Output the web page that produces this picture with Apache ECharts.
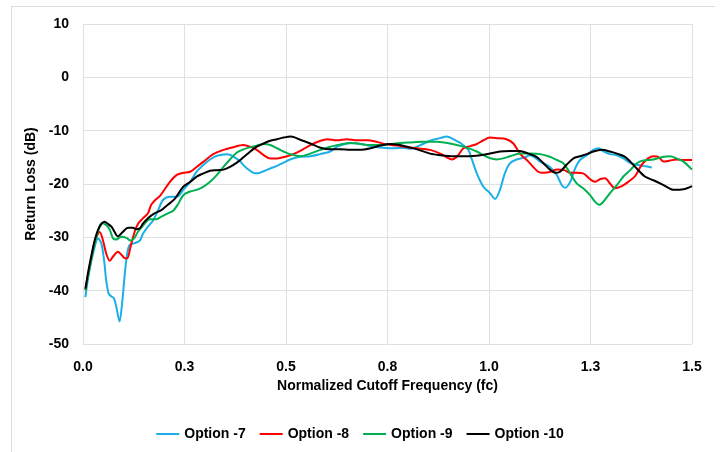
<!DOCTYPE html>
<html>
<head>
<meta charset="utf-8">
<script src="https://cdn.jsdelivr.net/npm/echarts@6/dist/echarts.min.js"></script>
<style>
html,body{margin:0;padding:0;background:#fff;}
#chart{width:720px;height:452px;}
</style>
</head>
<body>
<div id="chart"></div>
<script>
const seriesNames = ['Option -7', 'Option -8', 'Option -9', 'Option -10'];
const seriesColors = ['#1AAFE6', '#FF0000', '#00B050', '#000000'];
const xTickLabels = ['0.0', '0.3', '0.5', '0.8', '1.0', '1.3', '1.5'];
const yTickLabels = ['-50', '-40', '-30', '-20', '-10', '0', '10'];

const option7 = [[0.006,-41.2],[0.013,-37.4],[0.025,-33],[0.037,-30.2],[0.045,-31.1],[0.052,-34.3],[0.057,-38],[0.063,-40.5],[0.070,-41.1],[0.076,-41.4],[0.082,-43],[0.090,-45.8],[0.097,-41.8],[0.103,-36.8],[0.109,-33],[0.115,-31.4],[0.127,-31.1],[0.140,-30.6],[0.148,-29.3],[0.160,-28],[0.173,-26.8],[0.185,-24.9],[0.197,-23],[0.214,-22.4],[0.231,-22.4],[0.247,-21.1],[0.264,-19.6],[0.280,-17.7],[0.297,-16.4],[0.313,-15.4],[0.330,-14.7],[0.354,-14.4],[0.370,-14.8],[0.387,-15.8],[0.404,-17.1],[0.420,-17.9],[0.430,-18],[0.445,-17.6],[0.461,-17.1],[0.478,-16.6],[0.494,-16],[0.510,-15.4],[0.535,-14.9],[0.560,-14.8],[0.584,-14.4],[0.609,-13.9],[0.626,-13],[0.650,-12.4],[0.666,-12.3],[0.691,-12.6],[0.715,-13],[0.740,-13.2],[0.765,-13.3],[0.789,-13.2],[0.806,-13.4],[0.831,-12.7],[0.855,-11.9],[0.880,-11.4],[0.896,-11.1],[0.912,-11.6],[0.933,-12.5],[0.949,-13.6],[0.957,-15.2],[0.970,-18],[0.986,-20.5],[1.002,-21.7],[1.015,-22.8],[1.027,-21.1],[1.039,-18],[1.052,-16.1],[1.068,-15.4],[1.089,-15],[1.101,-14.6],[1.126,-15.8],[1.150,-16.8],[1.167,-18.3],[1.179,-20.2],[1.188,-20.7],[1.200,-19.6],[1.212,-17.1],[1.224,-15.5],[1.241,-14.6],[1.257,-13.6],[1.270,-13.3],[1.282,-13.9],[1.298,-14.4],[1.315,-14.6],[1.331,-15.2],[1.348,-16.1],[1.364,-16.4],[1.380,-16.6],[1.401,-16.9]];

const option8 = [[0.006,-39.9],[0.013,-36.8],[0.021,-33.6],[0.029,-30.8],[0.037,-29.3],[0.041,-29],[0.049,-30.5],[0.057,-33],[0.066,-34.4],[0.074,-33.6],[0.086,-32.7],[0.094,-33.2],[0.103,-33.9],[0.109,-33.9],[0.117,-31.8],[0.127,-29],[0.136,-27.4],[0.148,-26.4],[0.160,-25.5],[0.168,-23.9],[0.178,-23],[0.190,-22.2],[0.214,-19.6],[0.231,-18.3],[0.247,-17.9],[0.264,-17.7],[0.280,-16.8],[0.297,-15.8],[0.321,-14.4],[0.346,-13.6],[0.370,-13.1],[0.395,-12.7],[0.411,-13],[0.428,-13.6],[0.445,-14.6],[0.461,-15.2],[0.478,-15.2],[0.498,-14.9],[0.518,-14.4],[0.535,-13.8],[0.560,-12.7],[0.585,-11.9],[0.601,-11.6],[0.626,-11.8],[0.650,-11.6],[0.675,-11.8],[0.700,-11.8],[0.724,-12.1],[0.749,-12.6],[0.774,-12.8],[0.798,-13.1],[0.823,-13.3],[0.855,-13.6],[0.880,-14.3],[0.896,-15],[0.908,-15.4],[0.921,-14.9],[0.937,-13.3],[0.954,-12.9],[0.970,-12.5],[0.986,-11.8],[1.002,-11.3],[1.019,-11.4],[1.043,-11.6],[1.060,-12.4],[1.076,-14.3],[1.097,-15.8],[1.121,-17.7],[1.136,-17.9],[1.152,-17.7],[1.168,-17.3],[1.185,-17.4],[1.200,-17.9],[1.216,-17.9],[1.232,-18],[1.249,-19.1],[1.261,-19.6],[1.273,-19.1],[1.286,-18.9],[1.298,-19.9],[1.310,-20.8],[1.327,-20.4],[1.343,-19.6],[1.360,-18.5],[1.376,-16.4],[1.392,-15.2],[1.405,-14.8],[1.417,-14.9],[1.430,-15.8],[1.446,-15.6],[1.462,-15.4],[1.479,-15.5],[1.500,-15.5]];

const option9 = [[0.006,-39.9],[0.017,-35.5],[0.025,-32.4],[0.033,-29.9],[0.041,-28],[0.047,-27.3],[0.057,-27.7],[0.066,-28.6],[0.074,-30.2],[0.082,-30.4],[0.094,-29.9],[0.107,-30.1],[0.117,-30.6],[0.126,-30.2],[0.135,-29],[0.152,-27.4],[0.164,-26.6],[0.181,-26.6],[0.193,-26.1],[0.209,-25.5],[0.222,-25],[0.234,-23.8],[0.247,-22.1],[0.264,-21.4],[0.280,-21.1],[0.297,-20.5],[0.313,-19.6],[0.330,-18.3],[0.346,-16.8],[0.362,-15.4],[0.379,-14.1],[0.395,-13.5],[0.412,-13.1],[0.428,-12.8],[0.445,-12.5],[0.461,-12.7],[0.478,-13.3],[0.494,-13.9],[0.510,-14.4],[0.535,-14.8],[0.560,-14.3],[0.585,-13.6],[0.609,-13],[0.634,-12.6],[0.658,-12.3],[0.683,-12.5],[0.708,-12.7],[0.732,-12.7],[0.757,-12.5],[0.781,-12.3],[0.806,-12.2],[0.838,-12.1],[0.871,-12.1],[0.904,-12.4],[0.937,-13],[0.970,-13.9],[0.994,-14.9],[1.019,-15.4],[1.035,-15.2],[1.052,-14.8],[1.076,-14.3],[1.101,-14.3],[1.126,-14.4],[1.150,-14.9],[1.167,-15.5],[1.183,-16.1],[1.200,-18],[1.216,-19.9],[1.232,-20.8],[1.249,-22.1],[1.261,-23.3],[1.272,-23.9],[1.282,-23.3],[1.298,-21.7],[1.315,-20.2],[1.331,-18.6],[1.348,-17.4],[1.364,-16.1],[1.380,-15.6],[1.405,-15.4],[1.430,-14.9],[1.446,-14.8],[1.462,-15.2],[1.479,-15.8],[1.500,-17.3]];

const option10 = [[0.006,-39.6],[0.013,-36.4],[0.021,-33.3],[0.029,-30.5],[0.037,-28.6],[0.045,-27.5],[0.053,-27.1],[0.062,-27.5],[0.070,-28],[0.078,-29],[0.085,-29.8],[0.090,-29.6],[0.098,-29],[0.111,-28.2],[0.123,-28.2],[0.131,-28.5],[0.140,-28.3],[0.148,-27.4],[0.160,-26.4],[0.176,-25.5],[0.193,-24.9],[0.209,-23.9],[0.226,-22.8],[0.247,-20.5],[0.264,-19.6],[0.280,-18.6],[0.297,-18],[0.313,-17.5],[0.330,-17.4],[0.346,-17.3],[0.362,-16.8],[0.379,-16],[0.395,-15],[0.412,-13.9],[0.428,-13],[0.445,-12.4],[0.461,-11.9],[0.478,-11.6],[0.494,-11.3],[0.511,-11.1],[0.523,-11.3],[0.535,-11.7],[0.560,-12.4],[0.585,-13.2],[0.609,-13.5],[0.634,-13.5],[0.658,-13.6],[0.683,-13.6],[0.708,-13.3],[0.732,-12.8],[0.757,-12.5],[0.773,-12.6],[0.798,-13],[0.823,-13.5],[0.855,-14.3],[0.880,-14.6],[0.913,-14.8],[0.946,-14.8],[0.979,-14.6],[1.002,-14.3],[1.027,-13.9],[1.052,-13.8],[1.076,-13.8],[1.097,-14.3],[1.117,-14.9],[1.134,-16.1],[1.150,-17.3],[1.163,-17.9],[1.175,-17.7],[1.191,-16.4],[1.208,-15.2],[1.224,-14.8],[1.241,-14.4],[1.257,-13.9],[1.278,-13.6],[1.298,-13.9],[1.319,-14.4],[1.335,-14.9],[1.348,-15.8],[1.364,-17.1],[1.384,-18.6],[1.405,-19.3],[1.430,-20.2],[1.454,-21.1],[1.479,-21],[1.500,-20.4]];

const allData = [option7, option8, option9, option10];
const FONT = '"Liberation Sans Narrow", "Liberation Sans", Arial, sans-serif';

const chart = echarts.init(document.getElementById('chart'), null, {renderer: 'canvas'});
chart.setOption({
  backgroundColor: '#ffffff',
  animation: false,
  textStyle: {fontFamily: FONT},
  graphic: [
    {type: 'line', shape: {x1: 12, y1: 6.5, x2: 715, y2: 6.5}, style: {stroke: '#DDDDDD', lineWidth: 1}, silent: true},
    {type: 'line', shape: {x1: 11.5, y1: 6, x2: 11.5, y2: 452}, style: {stroke: '#DDDDDD', lineWidth: 1}, silent: true}
  ],
  grid: {left: 83, right: 28, top: 24, bottom: 108, containLabel: false},
  legend: {
    bottom: 6,
    left: 'center',
    icon: 'rect',
    itemWidth: 23,
    itemHeight: 2,
    itemGap: 14,
    textStyle: {fontFamily: FONT, fontSize: 14, color: '#000', fontWeight: 'bold'},
    data: seriesNames
  },
  xAxis: {
    type: 'value',
    min: 0, max: 1.5, interval: 0.25,
    name: 'Normalized Cutoff Frequency (fc)',
    nameLocation: 'middle',
    nameGap: 33,
    nameTextStyle: {fontFamily: FONT, fontSize: 14, fontWeight: 'bold', color: '#000'},
    axisLine: {show: false},
    axisTick: {show: false},
    axisLabel: {
      margin: 16, fontFamily: FONT, fontSize: 14, fontWeight: 'bold', color: '#000',
      formatter: function (v) { const i = Math.round(v / 0.25); return xTickLabels[i] !== undefined ? xTickLabels[i] : ''; }
    },
    splitLine: {show: true, lineStyle: {color: '#E0E0E0', width: 1}}
  },
  yAxis: {
    type: 'value',
    min: -50, max: 10, interval: 10,
    name: 'Return Loss (dB)',
    nameLocation: 'middle',
    nameGap: 39,
    nameRotate: 90,
    nameTextStyle: {fontFamily: FONT, fontSize: 14, fontWeight: 'bold', color: '#000'},
    axisLine: {show: false},
    axisTick: {show: false},
    axisLabel: {
      margin: 14, fontFamily: FONT, fontSize: 14, fontWeight: 'bold', color: '#000',
      formatter: function (v) { const i = Math.round((v + 50) / 10); return yTickLabels[i] !== undefined ? yTickLabels[i] : ''; }
    },
    splitLine: {show: true, lineStyle: {color: '#E0E0E0', width: 1}}
  },
  series: seriesNames.map(function (name, i) {
    return {
      name: name,
      type: 'line',
      data: allData[i],
      symbol: 'none',
      smooth: 0.3,
      color: seriesColors[i],
      lineStyle: {width: 2, color: seriesColors[i]},
      z: 2 + i
    };
  })
});
</script>
</body>
</html>
